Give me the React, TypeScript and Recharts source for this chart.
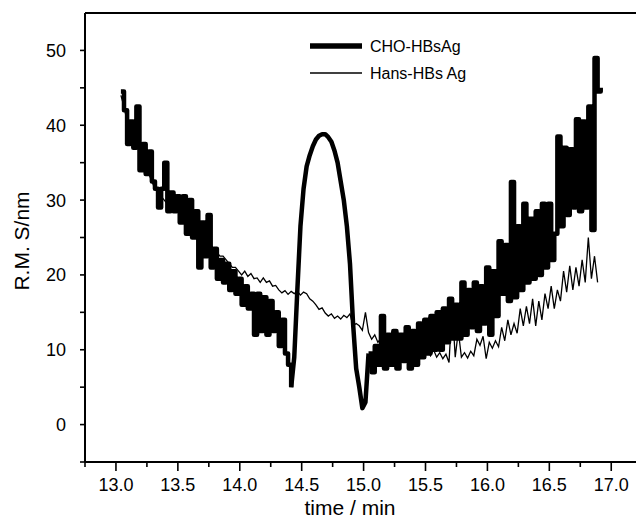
import React from 'react';
import { LineChart, Line, XAxis, YAxis, ReferenceLine, Legend, Label } from 'recharts';

// sampling of the traces (time in min)
const T0 = 13.04;
const DT = 0.025;

// CHO-HBsAg trace (R.M. S/nm)
const choValues = [
  44.5, 42.0, 37.5, 40.5, 37.0, 42.5, 34.0, 37.5, 33.5, 36.5,
  32.5, 31.5, 29.0, 31.5, 35.0, 28.5, 31.0, 28.5, 30.5, 27.0,
  30.5, 25.5, 30.0, 25.0, 28.5, 21.0, 27.0, 22.5, 28.0, 21.0,
  23.5, 19.5, 22.0, 19.0, 21.5, 18.0, 20.5, 17.5, 19.5, 16.0,
  18.5, 15.5, 17.5, 12.0, 17.5, 12.5, 17.0, 12.0, 16.5, 12.5,
  15.0, 10.5, 14.0, 9.5, 8.0, 5.0, 9.0, 18.0, 26.5, 31.5,
  34.5, 36.0, 37.2, 38.1, 38.6, 38.8, 38.8, 38.4, 37.8, 36.6,
  35.0, 32.5, 30.0, 26.5, 21.5, 13.5, 7.5, 5.0, 2.2, 3.0,
  9.5, 7.0, 10.5, 8.0, 14.5, 7.5, 12.0, 8.0, 12.5, 7.5,
  12.0, 8.5, 13.0, 7.5, 12.5, 8.0, 13.5, 9.0, 14.0, 9.5,
  14.5, 10.0, 15.0, 10.0, 15.5, 11.0, 16.8, 11.5, 16.0, 11.5,
  19.0, 12.0, 18.0, 13.0, 19.0, 12.5, 18.5, 13.5, 21.0, 12.0,
  20.5, 14.5, 24.5, 17.5, 24.0, 16.5, 32.4, 17.0, 26.5, 18.0,
  29.5, 19.0, 27.5, 19.5, 28.5, 20.0, 29.5, 21.0, 29.5, 22.0,
  25.5, 38.5, 26.5, 37.0, 28.0, 36.8, 29.0, 40.8, 28.5, 40.5,
  29.0, 42.5, 26.0, 49.0, 44.5, 45.0,
];

// index range of the smooth peak of the CHO-HBsAg trace (drawn unstepped)
const choPeakRange = [55, 80];

// Hans-HBs Ag trace (R.M. S/nm)
const hansValues = [
  44.0, 42.5, 40.5, 39.5, 38.5, 38.0, 37.0, 35.5, 34.5, 33.5,
  32.5, 31.5, 31.0, 30.5, 30.0, 29.5, 29.5, 29.0, 28.5, 28.5,
  28.0, 27.5, 27.0, 27.0, 26.5, 26.0, 25.5, 25.0, 24.5, 24.0,
  23.5, 23.0, 22.5, 22.5, 22.0, 21.5, 21.0, 21.0, 20.5, 20.0,
  20.5, 19.8, 20.2, 19.5, 19.6, 19.0, 19.6, 19.0, 19.2, 18.5,
  18.6, 18.0, 17.6, 17.9, 17.4, 17.8, 17.5, 17.8, 17.3, 17.7,
  17.5, 16.8, 16.5, 16.0, 15.4, 15.6, 14.9, 14.5, 14.8, 14.2,
  14.5, 14.1, 14.6, 14.3, 14.8, 13.2, 13.5, 13.2, 12.6, 15.0,
  12.3, 11.4, 12.0, 11.0, 11.5, 10.8, 11.2, 10.5, 11.0, 10.4,
  10.9, 10.2, 10.8, 10.0, 10.6, 9.8, 10.4, 10.0, 9.6, 10.1,
  9.2, 10.0, 9.0, 9.6, 8.8, 9.4, 8.3, 16.0, 9.0, 12.5,
  9.0, 9.6, 8.9, 9.8, 9.2, 11.4, 10.6, 11.8, 8.8, 11.0,
  10.2, 11.2, 10.4, 13.0, 11.2, 14.0, 12.0, 13.5, 12.2, 15.5,
  13.2, 15.8, 13.5, 16.8, 13.2, 16.5, 14.0, 17.5, 15.5, 18.5,
  15.5, 18.0, 16.5, 20.5, 17.7, 21.2, 18.0, 21.0, 18.5, 22.0,
  19.0, 25.0, 19.5, 22.5, 19.0,
];

const seriesNames = ['CHO-HBsAg', 'Hans-HBs Ag'];

const xTicks = [
  12.75, 13.0, 13.25, 13.5, 13.75, 14.0, 14.25, 14.5, 14.75, 15.0,
  15.25, 15.5, 15.75, 16.0, 16.25, 16.5, 16.75, 17.0,
];
const yTicks = [-5, 0, 5, 10, 15, 20, 25, 30, 35, 40, 45, 50];
const xDomain = [12.75, 17.2];
const yDomain = [-5, 55];

const data = choValues.map((c, i) => {
  const inPeak = i >= choPeakRange[0] && i <= choPeakRange[1];
  const inner = i > choPeakRange[0] && i < choPeakRange[1];
  return {
    t: Math.round((T0 + i * DT) * 1000) / 1000,
    cho: inner ? null : c,
    choPeak: inPeak ? c : null,
    hans: i < hansValues.length ? hansValues[i] : null,
  };
});

const FONT = '"Liberation Sans", Arial, Helvetica, sans-serif';

const isMajor = (v: number, step: number) => Math.abs(v / step - Math.round(v / step)) < 1e-6;

const XTick = (props: any) => {
  const { x, y, payload } = props;
  const v = payload.value as number;
  const major = isMajor(v, 0.5);
  return (
    <g>
      <line x1={x} x2={x} y1={y} y2={y + (major ? 9 : 5)} stroke="#000" strokeWidth={1.6} />
      {major && (
        <text x={x} y={y + 29} textAnchor="middle" fontSize={18} fontFamily={FONT} fill="#000">
          {v.toFixed(1)}
        </text>
      )}
    </g>
  );
};

const YTick = (props: any) => {
  const { x, y, payload } = props;
  const v = payload.value as number;
  const major = isMajor(v, 10);
  return (
    <g>
      <line x1={x - 5} x2={x} y1={y} y2={y} stroke="#000" strokeWidth={1.6} />
      {major && (
        <text x={x - 19} y={y} dy="0.36em" textAnchor="end" fontSize={18} fontFamily={FONT} fill="#000">
          {v}
        </text>
      )}
    </g>
  );
};

const LegendContent = (props: any) => {
  const payload = (props.payload || []).filter((e: any) => e.type !== 'none');
  return (
    <svg width={200} height={50} style={{ overflow: 'visible' }}>
      {payload.map((entry: any, i: number) => (
        <g key={i}>
          <line
            x1={5}
            x2={57}
            y1={11 + i * 27}
            y2={11 + i * 27}
            stroke="#000"
            strokeWidth={i === 0 ? 5.5 : 1.5}
          />
          <text x={65} y={11 + i * 27} dy="0.36em" fontSize={16} fontFamily={FONT} fill="#000">
            {entry.value}
          </text>
        </g>
      ))}
    </svg>
  );
};

export default function App() {
  return (
    <div style={{ position: 'absolute', left: 0, top: 0, width: 637, height: 519, background: '#fff' }}>
      <LineChart
        width={637}
        height={519}
        data={data}
        margin={{ top: 13, right: 1, bottom: 0, left: 0 }}
        style={{ fontFamily: FONT }}
      >
        <XAxis
          type="number"
          dataKey="t"
          domain={xDomain}
          ticks={xTicks}
          interval={0}
          allowDataOverflow
          height={57}
          tickSize={0}
          tickMargin={0}
          tickLine={false}
          tick={<XTick />}
          axisLine={{ stroke: '#000', strokeWidth: 2 }}
        >
          <Label
            content={() => (
              <text x={350} y={507} dy="0.36em" textAnchor="middle" fontSize={21} fontFamily={FONT} fill="#000">
                time / min
              </text>
            )}
          />
        </XAxis>
        <YAxis
          type="number"
          domain={yDomain}
          ticks={yTicks}
          interval={0}
          allowDataOverflow
          width={85}
          tickSize={0}
          tickMargin={0}
          tickLine={false}
          tick={<YTick />}
          axisLine={{ stroke: '#000', strokeWidth: 2 }}
        >
          <Label
            content={() => (
              <text
                x={21}
                y={241}
                dy="0.36em"
                textAnchor="middle"
                fontSize={21}
                fontFamily={FONT}
                fill="#000"
                transform="rotate(-90 21 241)"
              >
                R.M. S/nm
              </text>
            )}
          />
        </YAxis>
        <ReferenceLine y={55} stroke="#000" strokeWidth={2} ifOverflow="visible" />
        <Line
          type="stepAfter"
          dataKey="cho"
          name={seriesNames[0]}
          stroke="#000"
          strokeWidth={4.5}
          strokeLinejoin="round"
          dot={false}
          connectNulls={false}
          isAnimationActive={false}
        />
        <Line
          type="linear"
          dataKey="choPeak"
          name={seriesNames[0]}
          legendType="none"
          stroke="#000"
          strokeWidth={4.5}
          strokeLinejoin="round"
          dot={false}
          connectNulls={false}
          isAnimationActive={false}
        />
        <Line
          type="linear"
          dataKey="hans"
          name={seriesNames[1]}
          stroke="#000"
          strokeWidth={1.3}
          dot={false}
          connectNulls={false}
          isAnimationActive={false}
        />
        <Legend
          layout="horizontal"
          verticalAlign="middle"
          align="center"
          content={<LegendContent />}
          wrapperStyle={{ position: 'absolute', left: 305, top: 35, width: 200, height: 50 }}
        />
      </LineChart>
    </div>
  );
}
